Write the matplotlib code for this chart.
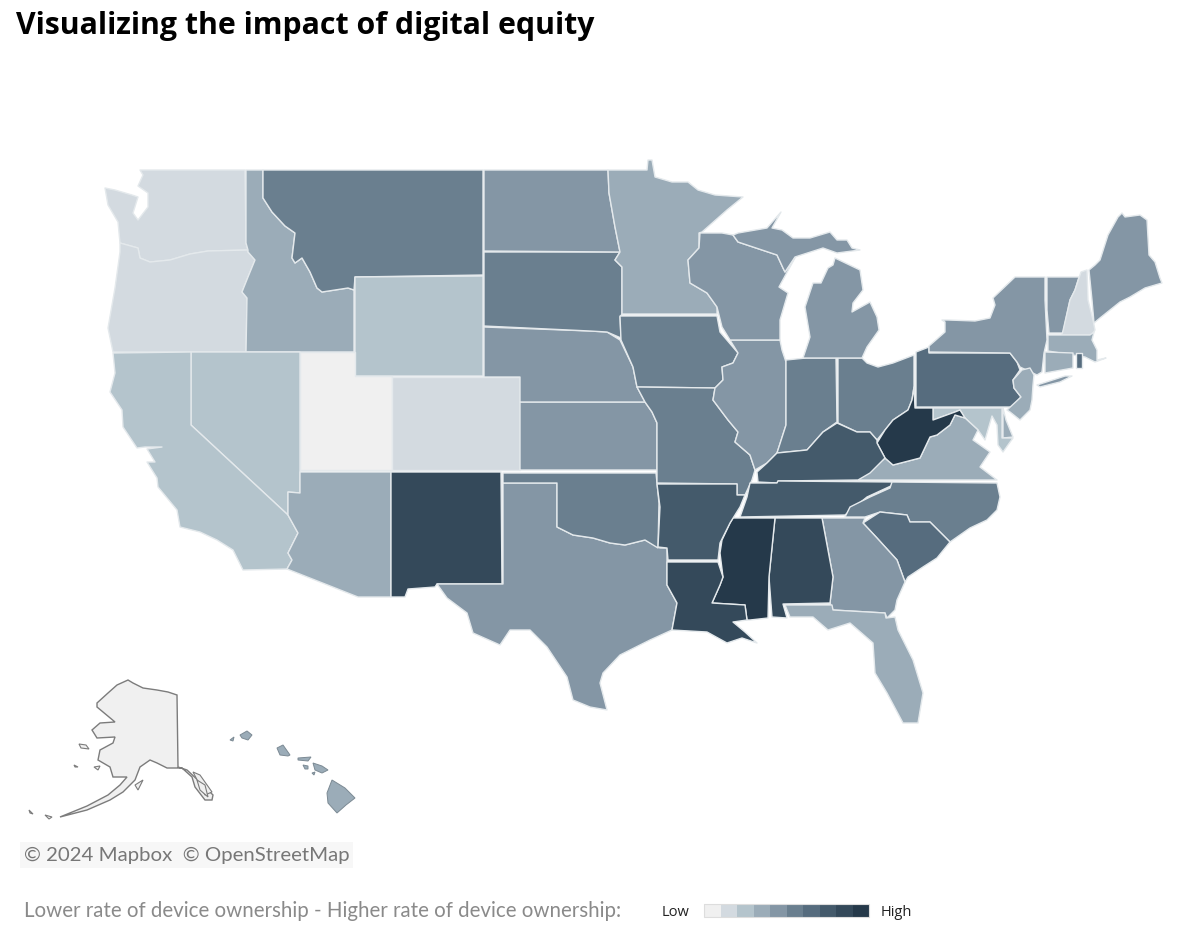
import matplotlib
matplotlib.use("Agg")
import matplotlib.pyplot as plt
from matplotlib.patches import Polygon, Rectangle

# state outlines (pixel coords)
WA = [(140,170),(245,170),(246,243),(248,250),(208,251),(190,254),(170,260),(150,262),(140,258),(138,248),(120,243),(118,222),(108,205),(105,188),(115,190),(132,195),(138,197),(133,213),(138,220),(148,207),(148,193),(138,186),(143,175)]
OR = [(120,243),(138,248),(140,258),(150,262),(170,260),(190,254),(208,251),(248,250),(248,252),(255,260),(248,277),(242,292),(247,298),(246,352),(113,352),(108,328),(115,288),(120,252)]
ID = [(246,170),(263,170),(263,198),(272,212),(285,226),(295,233),(292,258),(295,263),(302,258),(310,272),(317,288),(322,292),(348,288),(354,290),(354,352),(246,352),(247,298),(242,292),(248,277),(255,260),(248,252),(248,250),(246,243)]
MT = [(263,170),(483,170),(483,275),(355,277),(354,290),(348,288),(322,292),(317,288),(310,272),(302,258),(295,263),(292,258),(295,233),(285,226),(272,212),(263,198)]
WY = [(355,277),(483,276),(483,376),(355,376)]
UT = [(300,352),(355,352),(355,376),(392,376),(392,470),(300,470)]
CO = [(392,377),(520,377),(520,470),(392,470)]
NV = [(191,352),(300,352),(300,493),(288,492),(288,515),(191,425)]
CA = [(113,353),(191,352),(191,425),(288,515),(298,533),(288,553),(292,560),(287,569),(243,570),(233,550),(217,540),(200,532),(180,527),(177,510),(158,487),(157,478),(147,462),(155,462),(147,449),(162,447),(145,447),(137,448),(123,427),(122,410),(110,392),(115,373)]
AZ = [(300,472),(391,472),(391,597),(358,597),(287,569),(292,560),(288,553),(298,533),(288,515),(288,492),(300,493)]
NM = [(391,472),(501,472),(502,584),(437,584),(435,587),(408,589),(405,597),(391,597)]
TX = [(503,483),(557,483),(557,527),(573,535),(593,538),(610,543),(625,545),(645,540),(660,548),(667,548),(667,585),(677,603),(672,630),(650,640),(620,655),(603,673),(600,683),(607,710),(590,707),(573,700),(567,677),(547,647),(530,630),(510,630),(500,645),(473,633),(467,613),(447,598),(437,584),(503,584)]
OK_ = [(503,473),(656,473),(659,503),(658,548),(645,540),(625,545),(610,543),(593,538),(573,535),(557,527),(557,483),(503,483)]
KS = [(520,402),(645,402),(652,412),(657,423),(657,470),(520,470)]
NE = [(484,327),(590,331),(607,332),(620,340),(633,367),(637,387),(645,402),(520,402),(520,377),(484,377)]
SD = [(484,252),(620,252),(615,260),(622,267),(622,314),(620,317),(621,338),(607,332),(590,331),(484,326)]
ND = [(484,170),(608,170),(609,193),(615,227),(620,252),(484,251)]
MN = [(608,170),(647,170),(648,160),(652,160),(655,177),(672,182),(688,182),(698,190),(715,195),(743,197),(727,210),(702,232),(699,233),(699,248),(688,260),(690,283),(707,293),(717,307),(717,314),(622,314),(622,267),(615,260),(620,252),(615,227),(609,193)]
IA = [(620,316),(717,316),(720,332),(738,353),(733,363),(722,367),(723,380),(715,388),(637,387),(633,367),(621,340)]
MO = [(637,387),(715,388),(713,400),(728,420),(738,432),(735,442),(750,455),(755,470),(752,480),(745,495),(737,495),(737,484),(657,483),(657,423),(652,412),(645,402)]
IL = [(730,340),(780,340),(782,350),(786,362),(786,425),(777,453),(767,463),(755,470),(750,455),(735,442),(738,432),(728,420),(713,400),(715,388),(723,380),(722,367),(733,363),(738,353)]
IN = [(786,360),(806,358),(836,358),(837,422),(823,432),(807,450),(777,453),(786,425)]
OH = [(838,358),(862,358),(867,363),(878,367),(893,363),(914,355),(914,387),(912,400),(908,410),(893,420),(885,430),(877,440),(870,432),(857,432),(838,423)]
PA = [(916,352),(929,347),(929,353),(1010,353),(1017,362),(1020,370),(1013,380),(1014,388),(1021,397),(1012,407),(916,407)]
NY = [(929,352),(929,346),(945,332),(945,322),(942,320),(948,320),(975,321),(990,318),(995,305),(993,298),(1015,277),(1045,277),(1045,300),(1046,320),(1047,340),(1044,353),(1042,372),(1037,375),(1020,367),(1017,362),(1010,353)]
LI = [(1037,385),(1065,376),(1072,376),(1060,382),(1040,387)]
VT = [(1047,277),(1079,277),(1075,290),(1070,300),(1063,333),(1049,333),(1047,310)]
NH = [(1081,272),(1087,270),(1088,300),(1093,320),(1095,330),(1092,335),(1062,335),(1070,300),(1075,290)]
ME = [(1089,270),(1095,265),(1100,260),(1108,235),(1118,217),(1122,213),(1125,217),(1140,215),(1147,220),(1149,255),(1155,262),(1160,278),(1162,283),(1145,288),(1130,297),(1120,302),(1110,310),(1100,318),(1094,323),(1092,300)]
MA = [(1048,335),(1090,335),(1094,332),(1092,340),(1097,350),(1097,360),(1106,358),(1095,362),(1085,357),(1048,351)]
CT = [(1045,352),(1073,353),(1073,368),(1045,373)]
RI = [(1076,353),(1082,353),(1082,368),(1076,368)]
NJ = [(1022,370),(1030,368),(1034,375),(1033,385),(1032,400),(1030,410),(1020,420),(1010,412),(1007,410),(1021,397),(1014,388),(1013,380)]
DE = [(1003,408),(1006,420),(1013,437),(1003,438)]
MD = [(933,408),(1002,408),(1002,438),(1013,438),(1003,452),(998,445),(997,425),(992,416),(985,440),(978,430),(965,418),(960,410),(955,412),(933,420)]
VA = [(858,480),(877,465),(885,458),(893,465),(920,458),(930,437),(937,435),(950,425),(955,415),(965,418),(978,430),(973,440),(990,452),(980,467),(997,480)]
WV = [(914,387),(915,408),(933,408),(933,420),(955,412),(960,410),(965,418),(955,415),(950,425),(937,435),(930,437),(920,458),(893,465),(885,458),(877,443),(885,430),(893,420),(908,410),(912,400)]
KY = [(757,472),(767,463),(777,453),(807,450),(823,432),(837,423),(857,432),(870,432),(877,440),(877,443),(885,458),(870,473),(858,480),(778,481),(777,483),(758,482)]
TN = [(750,483),(777,483),(778,481),(892,482),(893,485),(867,497),(845,515),(740,517),(747,497)]
NC = [(892,482),(997,483),(1000,497),(997,510),(987,520),(970,528),(950,542),(930,522),(910,522),(907,515),(880,512),(865,517),(845,517),(850,507),(870,497),(890,488)]
SC = [(863,523),(880,512),(907,515),(910,522),(930,522),(950,542),(937,558),(923,567),(908,577),(905,582),(897,560),(877,538)]
GA = [(822,518),(865,518),(863,523),(877,538),(897,560),(905,582),(897,600),(895,610),(887,618),(885,613),(833,610),(830,603),(833,577)]
AL = [(775,518),(822,518),(833,577),(830,603),(783,604),(787,618),(772,617),(769,577)]
MS = [(733,518),(775,518),(769,577),(768,618),(750,620),(747,620),(745,605),(712,603),(720,585),(723,577),(720,553),(722,540),(730,523)]
LA = [(667,562),(718,562),(723,577),(720,585),(712,603),(745,605),(747,620),(733,622),(745,632),(757,643),(742,638),(727,643),(707,632),(672,630),(677,603),(667,585)]
AR = [(657,484),(737,484),(737,495),(745,495),(740,507),(730,523),(720,543),(718,560),(668,560),(667,548),(658,547),(660,507)]
FL = [(785,605),(832,605),(833,610),(885,613),(886,618),(895,617),(898,630),(913,660),(923,693),(918,723),(903,723),(887,693),(875,673),(873,643),(850,623),(828,630),(813,617),(790,617)]
WI = [(700,233),(722,233),(733,235),(738,242),(777,255),(783,268),(785,272),(796,256),(779,287),(788,293),(780,320),(780,340),(730,340),(722,327),(717,307),(707,293),(690,283),(688,260),(699,248)]
MI_UP = [(738,242),(733,235),(738,233),(767,228),(781,212),(772,228),(782,230),(793,238),(810,238),(830,232),(837,240),(847,240),(852,248),(860,250),(837,253),(823,248),(795,257),(785,272),(783,268),(777,255)]
MI_LP = [(835,258),(860,270),(863,290),(853,303),(852,312),(870,302),(877,317),(879,330),(867,347),(862,358),(803,358),(810,337),(805,307),(813,283),(821,283),(828,268),(833,265)]

AK = [(128,680),(133,683),(143,688),(157,690),(168,692),(177,695),(178,767),(187,770),(200,782),(213,795),(212,800),(205,800),(195,787),(192,777),(182,768),(167,768),(157,763),(150,760),(140,767),(135,780),(123,792),(110,800),(87,810),(60,817),(87,806),(108,795),(120,785),(127,777),(113,777),(110,767),(98,760),(100,750),(113,743),(115,737),(97,738),(92,730),(100,723),(115,722),(97,707),(97,703),(108,693),(117,685)]
AK_ISLANDS = [[(79,744),(86,745),(89,749),(81,748)],[(94,767),(100,766),(98,770)],[(74,765),(78,767),(75,767)],[(29,810),(33,814),(30,813)],[(45,815),(52,817),(49,819)],[(135,785),(143,780),(138,790)],
              [(193,772),(200,775),(212,792),(205,795)],[(197,780),(205,785),(208,797),(200,790)]]
HI = [[(332,780),(345,788),(355,798),(346,805),(337,813),(328,803),(327,793)],
      [(313,763),(322,766),(328,770),(322,773),(315,770)],
      [(277,748),(283,745),(290,755),(288,756),(280,755)],
      [(240,735),(247,731),(252,735),(248,740),(242,738)],
      [(230,740),(234,737),(233,741)],
      [(298,758),(311,757),(308,761),(298,760)],
      [(303,765),(308,766),(308,769),(305,769)],
      [(312,773),(315,772),(314,775)]]

state_shapes = [WA,OR,ID,MT,WY,UT,CO,NV,CA,AZ,NM,TX,OK_,KS,NE,SD,ND,MN,IA,MO,IL,IN,OH,PA,NY,LI,VT,NH,ME,MA,CT,RI,NJ,DE,MD,VA,WV,KY,TN,NC,SC,GA,AL,MS,LA,AR,FL,WI,MI_UP,MI_LP]
state_levels = [1,1,3,5,2,0,1,2,2,3,8,4,5,4,4,5,4,3,5,5,4,5,5,6,4,4,4,1,4,3,3,6,3,3,2,3,9,7,7,5,6,4,8,9,8,7,3,4,4,4]
palette = ["#f0f0f0","#d3dae0","#b4c4cc","#9bacb8","#8496a5","#6a7f8f","#566c7e","#445a6b","#34495a","#25394a"]
legend_levels = list(range(10))
alaska_level = 0
hawaii_level = 3

fig = plt.figure(figsize=(12.04, 9.44), dpi=100)
ax = fig.add_axes([0, 0, 1, 1])
ax.set_xlim(0, 1204)
ax.set_ylim(944, 0)
ax.axis("off")

for shape, level in zip(state_shapes, state_levels):
    ax.add_patch(Polygon(shape, closed=True, facecolor=palette[level], edgecolor="#e4e9ec", linewidth=1.0, joinstyle="round"))

ax.add_patch(Polygon(AK, closed=True, facecolor=palette[alaska_level], edgecolor="#7c7c7c", linewidth=1.0))
for isl in AK_ISLANDS:
    ax.add_patch(Polygon(isl, closed=True, facecolor=palette[alaska_level], edgecolor="#7c7c7c", linewidth=0.8))
for isl in HI:
    ax.add_patch(Polygon(isl, closed=True, facecolor=palette[hawaii_level], edgecolor="#7c8a94", linewidth=0.7))

ax.text(16, 26, "Visualizing the impact of digital equity", fontsize=21.8, fontweight="bold",
        family="Open Sans", color="black", va="center", ha="left")

# attribution box
ax.add_patch(Rectangle((20, 842), 333, 26, facecolor="#f7f7f7", edgecolor="none"))
ax.text(24, 855, "© 2024 Mapbox  © OpenStreetMap", fontsize=14.7, family="Lato", color="#777777", va="center", ha="left")

ax.text(24, 911, "Lower rate of device ownership - Higher rate of device ownership:", fontsize=14.8,
        family="Lato", color="#8a8a8a", va="center", ha="left")
ax.text(662, 912, "Low", fontsize=10.5, family="Open Sans", color="#222222", va="center", ha="left")
ax.text(881, 912, "High", fontsize=10.5, family="Open Sans", color="#222222", va="center", ha="left")

for i in legend_levels:
    ax.add_patch(Rectangle((704 + i * 16.5, 904), 16.5, 13, facecolor=palette[i], edgecolor="none"))
ax.add_patch(Rectangle((704, 904), 165, 13, facecolor="none", edgecolor="#dddddd", linewidth=0.8))

fig.savefig("out.png", dpi=100)
